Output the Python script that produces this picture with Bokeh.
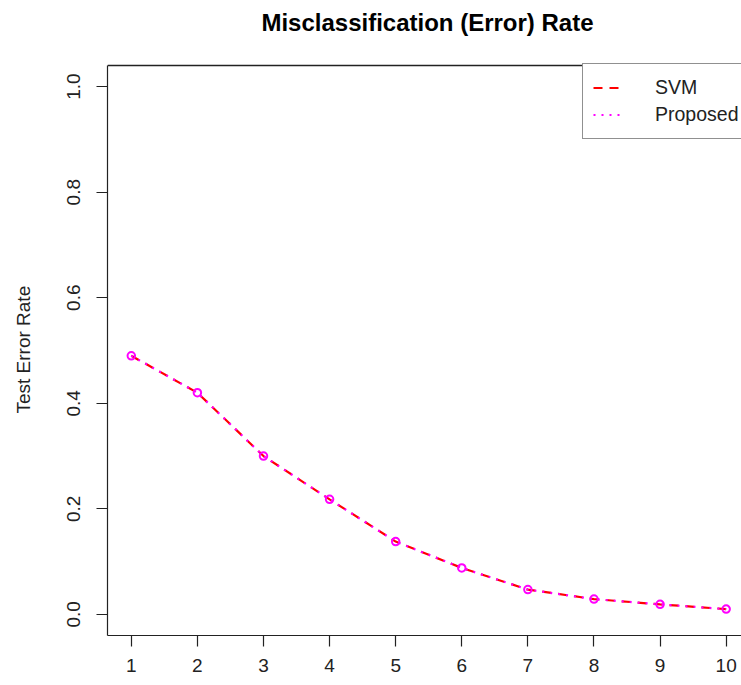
from bokeh.plotting import figure
from bokeh.models import (Range1d, FixedTicker, Legend, LegendItem, Span, Label)
from bokeh.embed import file_html
from bokeh.resources import INLINE

# Number of training rounds / iterations on the x axis
rounds = [1, 2, 3, 4, 5, 6, 7, 8, 9, 10]
# Test error rates for both methods
svm_error = [0.49, 0.42, 0.30, 0.218, 0.138, 0.088, 0.047, 0.029, 0.019, 0.010]
proposed_error = [0.49, 0.42, 0.30, 0.218, 0.138, 0.088, 0.047, 0.029, 0.019, 0.010]

y_ticks = [0.0, 0.2, 0.4, 0.6, 0.8, 1.0]
y_tick_labels = ["0.0", "0.2", "0.4", "0.6", "0.8", "1.0"]
x_ticks = [1, 2, 3, 4, 5, 6, 7, 8, 9, 10]

FONT = "Liberation Sans"
INK = "#222222"

# Plot box spans y in [-0.04, 1.04]; the frame reaches up to the canvas top so
# the title can sit inside it, above the box.
Y_LO, Y_HI = -0.04, 1.04
BOX_TOP, BOX_BOTTOM = 65, 635            # pixel rows of the box edges
px_per_unit = (BOX_BOTTOM - BOX_TOP) / (Y_HI - Y_LO)
y_frame_top = Y_LO + BOX_BOTTOM / px_per_unit

p = figure(
    width=741, height=685,
    output_backend="svg", toolbar_location=None,
    x_range=Range1d(0.64, 10.232), y_range=Range1d(Y_LO, y_frame_top),
    min_border_left=107, min_border_right=0,
    min_border_top=0, min_border_bottom=685 - BOX_BOTTOM,
)
p.background_fill_color = "white"
p.border_fill_color = "white"
p.outline_line_color = None
p.grid.visible = False

# main title, centred over the plotting box
p.add_layout(Label(
    x=320, y=BOX_BOTTOM - 22, x_units="screen", y_units="screen",
    text="Misclassification (Error) Rate",
    text_font=FONT, text_font_size="24px", text_font_style="bold",
    text_color="black", text_align="center", text_baseline="middle",
))

# top border of the plotting box
p.add_layout(Span(location=Y_HI, dimension="width", line_color=INK, line_width=1.3))

for ax in (p.xaxis[0], p.yaxis[0]):
    ax.axis_line_color = INK
    ax.axis_line_width = 1.2
    ax.major_tick_line_color = INK
    ax.major_tick_line_width = 1.2
    ax.major_tick_in = 0
    ax.major_tick_out = 11
    ax.minor_tick_line_color = None
    ax.major_label_text_font = FONT
    ax.major_label_text_font_size = "19px"
    ax.major_label_text_color = INK

p.xaxis.ticker = FixedTicker(ticks=x_ticks)
p.xaxis.major_label_standoff = 12

p.yaxis.bounds = (Y_LO, Y_HI)
p.yaxis.ticker = FixedTicker(ticks=y_ticks)
p.yaxis.major_label_overrides = {t: s for t, s in zip(y_ticks, y_tick_labels)}
p.yaxis.major_label_orientation = "vertical"
p.yaxis.major_label_standoff = 16
# the axis title is centred on the whole frame; trailing no-break spaces
# bring the visible words back to the middle of the box
p.yaxis.axis_label = "Test Error Rate" + "\u00a0" * 12
p.yaxis.axis_label_text_font = FONT
p.yaxis.axis_label_text_font_size = "19px"
p.yaxis.axis_label_text_font_style = "normal"
p.yaxis.axis_label_text_color = INK
p.yaxis.axis_label_standoff = 31

r_svm = p.line(rounds, svm_error, line_color="#FF0000", line_width=2.2,
               line_dash="9 7")
r_prop = p.line(rounds, proposed_error, line_color="#FF00FF", line_width=2.2,
                line_dash="2 6")
p.scatter(rounds, proposed_error, marker="circle", size=7.5,
          fill_color=None, line_color="#FF00FF", line_width=2)

LEG_H = 74
legend = Legend(
    items=[LegendItem(label="SVM", renderers=[r_svm]),
           LegendItem(label="Proposed", renderers=[r_prop])],
    location=(475, BOX_BOTTOM - BOX_TOP - LEG_H),
    margin=0, padding=10, spacing=0,
    glyph_width=30, glyph_height=27, label_height=27,
    label_standoff=32,
    label_text_font=FONT, label_text_font_size="19.5px", label_text_color=INK,
    border_line_color=INK, border_line_width=1.2,
    background_fill_color="white", background_fill_alpha=1.0,
)
p.add_layout(legend)

open("out.html", "w").write(file_html(p, INLINE))
